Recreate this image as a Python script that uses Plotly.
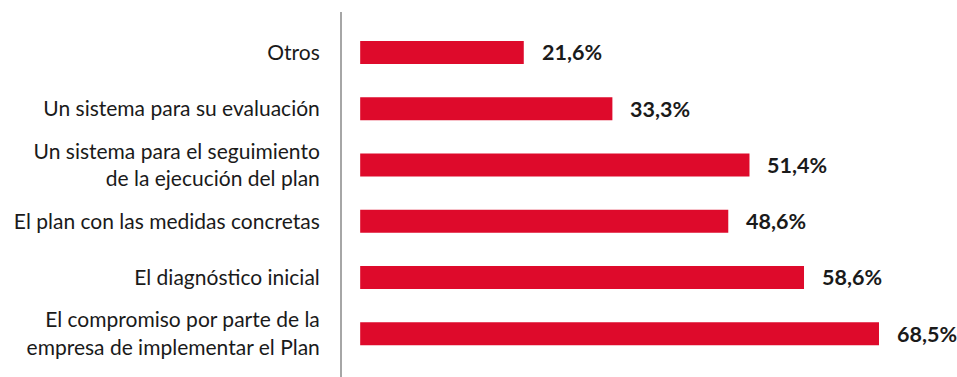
import plotly.graph_objects as go

# categories listed top to bottom as drawn
categories = [
    "Otros",
    "Un sistema para su evaluación",
    "Un sistema para el seguimiento<br>de la ejecución del plan",
    "El plan con las medidas concretas",
    "El diagnóstico inicial",
    "El compromiso por parte de la<br>empresa de implementar el Plan",
]
values = [21.6, 33.3, 51.4, 48.6, 58.6, 68.5]
value_labels = ["21,6%", "33,3%", "51,4%", "48,6%", "58,6%", "68,5%"]

RED = "#DE0A2B"
TEXT = "#1a1a1a"
FONT = "Lato, 'Open Sans', sans-serif"

fig = go.Figure()

fig.add_trace(
    go.Bar(
        x=values,
        y=categories,
        orientation="h",
        width=0.41,
        marker=dict(color=RED, line=dict(width=0)),
        hoverinfo="skip",
    )
)

# value labels just past the end of each bar
for cat, v, lab in zip(categories, values, value_labels):
    fig.add_annotation(
        x=v,
        y=cat,
        text=f"<b>{lab}</b>",
        showarrow=False,
        xanchor="left",
        yanchor="middle",
        xshift=16,
        font=dict(family=FONT, size=21.5, color=TEXT),
    )

fig.update_layout(
    template="none",
    width=957,
    height=377,
    margin=dict(l=342, r=0, t=12, b=0, autoexpand=False),
    paper_bgcolor="white",
    plot_bgcolor="white",
    showlegend=False,
    font=dict(family=FONT, size=21, color=TEXT),
    xaxis=dict(
        range=[-2.4, 78.8],
        visible=False,
        automargin=False,
        fixedrange=True,
    ),
    yaxis=dict(
        type="category",
        range=[5.77, -0.72],
        automargin=False,
        showgrid=False,
        zeroline=False,
        showline=True,
        linecolor="#A6A6A6",
        linewidth=2,
        ticks="",
        ticklabelstandoff=16,
        tickfont=dict(family=FONT, size=21, color=TEXT),
        fixedrange=True,
    ),
)

# drop the default page margin so the figure sits at the window's corner
fig.write_html(
    "out.html",
    config=dict(displayModeBar=False),
    post_script="document.body.style.margin='0';",
)
